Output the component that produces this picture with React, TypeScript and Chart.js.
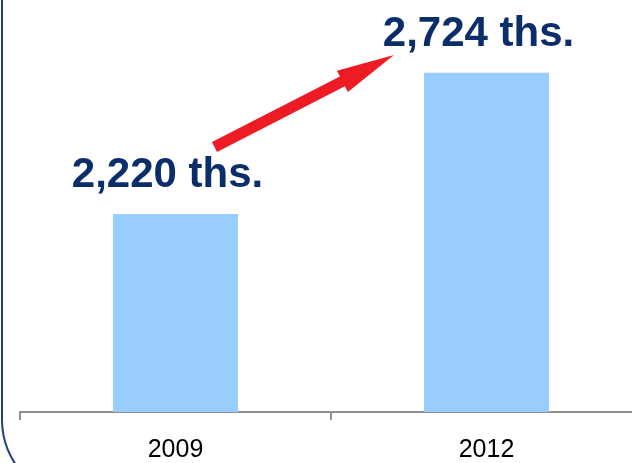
import React, { useEffect, useRef } from "react";
import { Chart, registerables } from "chart.js";

Chart.register(...registerables);

const categories = ["2009", "2012"];
const values = [2220, 2724];
const unitSuffix = " ths.";
const yMin = 1514;
const yMax = 2983;

const fmt = (v: number) => v.toLocaleString("en-US") + unitSuffix;

const overlayPlugin = {
  id: "overlay",
  afterDatasetsDraw(chart: any) {
    const meta = chart.getDatasetMeta(0);
    const bars = meta.data;
    const ctx = chart.ctx as CanvasRenderingContext2D;
    ctx.save();
    // value labels
    ctx.font = "bold 42px 'Liberation Sans', Arial, sans-serif";
    ctx.fillStyle = "#0b2e6b";
    ctx.textAlign = "center";
    ctx.textBaseline = "alphabetic";
    bars.forEach((b: any, i: number) => {
      ctx.fillText(fmt(values[i]), b.x - 8, b.y - 27);
    });
    // arrow
    if (bars.length >= 2) {
      const b0 = bars[0];
      const b1 = bars[1];
      const tx = b0.x + 39, ty = b0.y - 67;
      const hx = b1.x - 92.5, hy = b1.y - 17.7;
      const dx = hx - tx, dy = hy - ty;
      const L = Math.hypot(dx, dy);
      const ux = dx / L, uy = dy / L;
      const nx = -uy, ny = ux;
      const headLen = 58, headHalf = 12, shaftHalf = 5.5;
      const bx = tx + ux * (L - headLen), by = ty + uy * (L - headLen);
      ctx.fillStyle = "#ed1c24";
      ctx.beginPath();
      ctx.moveTo(tx + nx * shaftHalf, ty + ny * shaftHalf);
      ctx.lineTo(bx + nx * shaftHalf, by + ny * shaftHalf);
      ctx.lineTo(bx + nx * headHalf, by + ny * headHalf);
      ctx.lineTo(hx, hy);
      ctx.lineTo(bx - nx * headHalf, by - ny * headHalf);
      ctx.lineTo(bx - nx * shaftHalf, by - ny * shaftHalf);
      ctx.lineTo(tx - nx * shaftHalf, ty - ny * shaftHalf);
      ctx.closePath();
      ctx.fill();
    }
    ctx.restore();
  },
};

export default function App() {
  const ref = useRef<HTMLCanvasElement>(null);
  useEffect(() => {
    if (!ref.current) return;
    const chart = new Chart(ref.current, {
      type: "bar",
      data: {
        labels: categories,
        datasets: [
          {
            data: values,
            backgroundColor: "#99ccff",
            borderWidth: 0,
            barPercentage: 1,
            categoryPercentage: 0.402,
          },
        ],
      },
      options: {
        responsive: false,
        maintainAspectRatio: false,
        animation: false,
        layout: { padding: { left: 20, top: 0, right: 0, bottom: 0 } },
        plugins: { legend: { display: false }, tooltip: { enabled: false } },
        scales: {
          y: { display: false, min: yMin, max: yMax },
          x: {
            offset: true,
            grid: {
              display: true,
              drawOnChartArea: false,
              drawTicks: true,
              tickLength: 8,
              color: "#8f8f8f",
              lineWidth: 2,
              offset: true,
            },
            border: { display: true, color: "#8f8f8f", width: 2 },
            ticks: {
              color: "#000000",
              font: { family: "'Liberation Sans', Arial, sans-serif", size: 25 },
              padding: 15,
              maxRotation: 0,
            },
            afterFit: (s: any) => {
              s.height = 51;
            },
          },
        },
      },
      plugins: [overlayPlugin],
    });
    return () => chart.destroy();
  }, []);
  return (
    <div
      style={{
        position: "fixed",
        left: 0,
        top: 0,
        width: 632,
        height: 463,
        overflow: "hidden",
        background: "#ffffff",
      }}
    >
      <div
        style={{
          position: "absolute",
          left: 1,
          top: -100,
          width: 800,
          height: 600,
          border: "2px solid #1f3f7f",
          borderRadius: 80,
          boxSizing: "border-box",
        }}
      />
      <canvas
        ref={ref}
        width={642}
        height={463}
        style={{ position: "absolute", left: 0, top: 0, width: 642, height: 463 }}
      />
    </div>
  );
}
